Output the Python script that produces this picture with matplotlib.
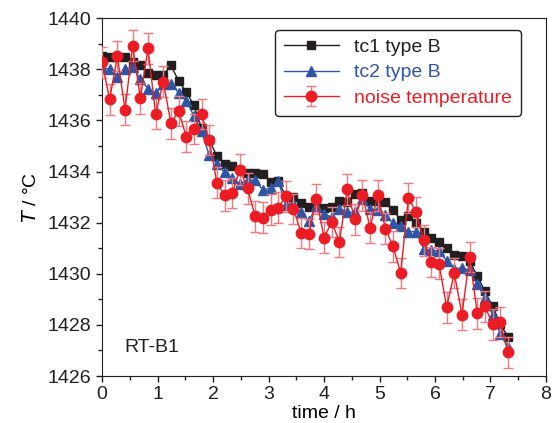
import matplotlib
matplotlib.use("Agg")
import matplotlib.pyplot as plt
from matplotlib.ticker import MultipleLocator
import numpy as np

plt.rcParams['font.family'] = ['Liberation Sans', 'DejaVu Sans']

# time axis: 54 readings, about 8.3 min apart
time_h = np.arange(54) * 0.138

tc1 = [1438.53, 1438.50, 1438.50, 1438.47, 1438.30, 1438.18, 1437.85, 1437.76, 1437.78, 1438.15,
       1437.55, 1437.11, 1436.59, 1435.70, 1435.25, 1434.60, 1434.29, 1434.21, 1434.05, 1433.96,
       1433.96, 1433.89, 1433.61, 1433.62, 1433.04, 1433.01, 1432.77, 1432.62, 1432.62, 1432.56,
       1432.63, 1432.85, 1432.81, 1433.14, 1433.17, 1432.86, 1432.84, 1432.79, 1432.49, 1432.11,
       1432.25, 1431.99, 1431.64, 1431.40, 1431.23, 1431.00, 1430.72, 1430.70, 1430.49, 1429.92,
       1429.31, 1428.73, 1428.05, 1427.52]

tc2 = [1438.05, 1438.02, 1437.71, 1438.02, 1438.09, 1437.62, 1437.24, 1437.06, 1437.43, 1437.44,
       1437.08, 1436.75, 1436.18, 1435.57, 1434.63, 1434.30, 1433.97, 1433.73, 1433.53, 1433.66,
       1433.66, 1433.28, 1433.35, 1433.62, 1432.71, 1432.72, 1432.40, 1432.07, 1432.64, 1432.33,
       1432.22, 1432.55, 1432.41, 1432.40, 1432.92, 1432.52, 1432.51, 1432.29, 1431.99, 1431.86,
       1431.65, 1431.65, 1430.98, 1430.92, 1430.89, 1430.51, 1430.20, 1430.23, 1430.13, 1429.60,
       1429.05, 1428.40, 1427.65, 1427.14]

noise = [1438.27, 1436.82, 1438.52, 1436.42, 1438.92, 1436.87, 1438.82, 1436.25, 1437.52, 1435.89,
         1436.37, 1435.36, 1435.66, 1436.25, 1435.23, 1433.56, 1433.07, 1433.16, 1434.08, 1433.34,
         1432.25, 1432.20, 1432.51, 1432.59, 1433.03, 1432.53, 1431.60, 1431.56, 1432.92, 1431.42,
         1432.03, 1431.24, 1433.30, 1432.13, 1433.07, 1431.81, 1433.07, 1431.77, 1431.07, 1430.03,
         1432.97, 1432.42, 1431.31, 1430.46, 1430.40, 1428.69, 1430.03, 1428.40, 1430.66, 1428.45,
         1428.73, 1428.02, 1428.11, 1426.93]
noise_err = 0.6

black = '#231f20'
blue = '#2f55a4'
red = '#ec1c24'

fig = plt.figure(figsize=(5.56, 4.23), dpi=100)
ax = fig.add_axes([0.1835, 0.111, 0.7985, 0.846])

ax.plot(time_h, tc1, '-s', color=black, lw=1.0, ms=5.5, label='tc1 type B', zorder=3)
ax.plot(time_h, tc2, '-^', color=blue, lw=1.0, ms=6.5, label='tc2 type B', zorder=4)
eb = ax.errorbar(time_h, noise, yerr=noise_err, fmt='-o', color=red, lw=1.0, ms=7.5,
                 ecolor='#f07a80', elinewidth=1.0, capsize=3.5, capthick=1.0,
                 label='noise temperature', zorder=5)

ax.set_xlim(0, 8)
ax.set_ylim(1426, 1440)
ax.xaxis.set_major_locator(MultipleLocator(1))
ax.xaxis.set_minor_locator(MultipleLocator(0.5))
ax.yaxis.set_major_locator(MultipleLocator(2))
ax.yaxis.set_minor_locator(MultipleLocator(1))
ax.tick_params(which='both', direction='out', labelsize=14, width=1, colors='#231f20')
ax.tick_params(which='major', length=4)
ax.tick_params(which='minor', length=3)
for s in ax.spines.values():
    s.set_color('#231f20')

ax.set_xlabel('time / h', fontsize=14, labelpad=1)
ax.set_ylabel(r'$\it{T}$ / °C', fontsize=14, labelpad=6)

ax.text(0.41, 1427.13, 'RT-B1', fontsize=14, va='center', color='#231f20')

leg = ax.legend(loc='upper right', bbox_to_anchor=(0.943, 0.968), fontsize=14,
                frameon=True, fancybox=True, edgecolor='#231f20', framealpha=1,
                handlelength=2.8, borderpad=0.45, labelspacing=0.4, handletextpad=0.8,
                borderaxespad=0.0)
leg.get_frame().set_linewidth(1.0)
for txt, c in zip(leg.get_texts(), [black, blue, red]):
    txt.set_color(c)

fig.savefig('out.png', dpi=100)
